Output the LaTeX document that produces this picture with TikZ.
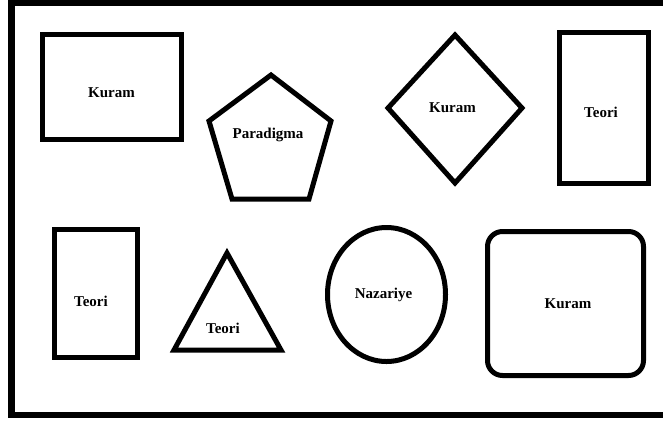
\documentclass[tikz,border=0pt]{standalone}
\usepackage{fontspec}
\setmainfont{Liberation Serif}
\usetikzlibrary{shapes.geometric}
\begin{document}
\begin{tikzpicture}[x=1pt,y=-1pt,
  shp/.style={draw=black,line width=5pt,line join=miter,inner sep=0pt},
  lbl/.style={font=\fontsize{15}{18}\selectfont\bfseries,anchor=base,inner sep=0pt,text=black}]
\useasboundingbox (0,0) rectangle (663,421);
% frame
\draw[line width=6.5pt,line join=miter] (663,2.5) -- (11.5,2.5) -- (11.5,415) -- (663,415);
% top row
\node[shp,rectangle,minimum width=139pt,minimum height=105pt] (r1) at (112,87) {};
\node[lbl] (t1) at (111.5,97) {Kuram};
\draw[shp] (271,75) coordinate (p1) -- (331,121) coordinate (p2) -- (309,199) coordinate (p3)
  -- (232,199) coordinate (p4) -- (209,121) coordinate (p5) -- cycle;
\node[lbl] (t2) at (268,138) {Paradigma};
\draw[shp] (455,35) coordinate (d1) -- (522,108) coordinate (d2) -- (455,183) coordinate (d3)
  -- (388,108) coordinate (d4) -- cycle;
\node[lbl] (t3) at (452.5,112) {Kuram};
\node[shp,rectangle,minimum width=89pt,minimum height=151pt] (r2) at (604,108) {};
\node[lbl] (t4) at (601,117) {Teori};
% bottom row
\node[shp,rectangle,minimum width=83pt,minimum height=128pt] (r3) at (96,293.5) {};
\node[lbl] (t5) at (91,306) {Teori};
\draw[shp] (227,253) coordinate (g1) -- (281,350) coordinate (g2) -- (174,350) coordinate (g3) -- cycle;
\node[lbl] (t6) at (223,333) {Teori};
\node[shp,ellipse,minimum width=118pt,minimum height=134pt] (e1) at (386.5,294.5) {};
\node[lbl] (t7) at (383.5,298) {Nazariye};
\node[shp,rectangle,rounded corners=15pt,minimum width=156pt,minimum height=144pt] (r4) at (565.5,303.5) {};
\node[lbl] (t8) at (568,308) {Kuram};
\end{tikzpicture}
\end{document}
